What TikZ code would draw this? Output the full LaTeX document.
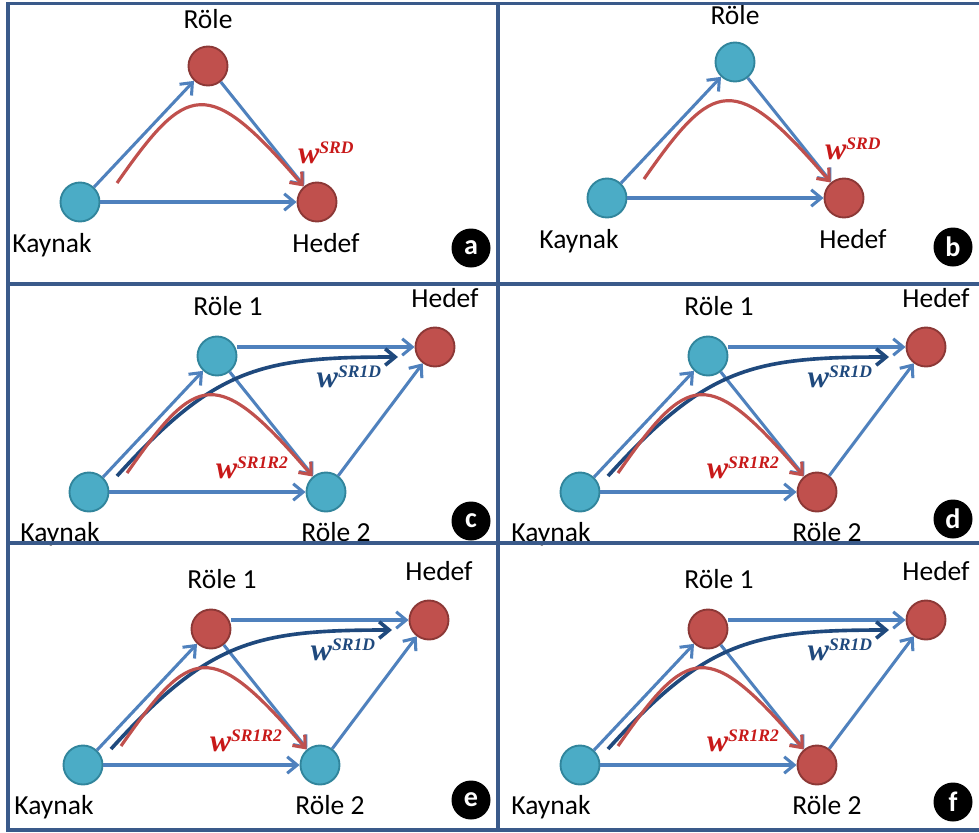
\documentclass[tikz,border=0pt]{standalone}
\usepackage{fontspec}
\setmainfont{Carlito}
\newfontfamily\wfont{Liberation Serif}
\usetikzlibrary{arrows.meta}

\definecolor{framec}{RGB}{58,90,138}
\definecolor{cyanfill}{RGB}{75,172,198}
\definecolor{cyanline}{RGB}{49,133,156}
\definecolor{redfill}{RGB}{192,80,77}
\definecolor{redline}{RGB}{140,56,54}
\definecolor{linkblue}{RGB}{79,129,189}
\definecolor{pathred}{RGB}{192,80,77}
\definecolor{pathnavy}{RGB}{31,73,125}
\definecolor{lblred}{RGB}{200,25,25}
\definecolor{lblnavy}{RGB}{31,73,125}

\tikzset{
  station/.style={circle, minimum size=1.17cm, inner sep=0pt, line width=1.6pt},
  cyannode/.style={station, fill=cyanfill, draw=cyanline},
  rednode/.style={station, fill=redfill, draw=redline},
  lbl/.style={anchor=base, inner sep=0pt, font=\fontsize{23.5}{26}\selectfont},
  wlabel/.style={anchor=base, inner sep=0pt},
  link/.style={draw=linkblue, line width=2.6pt, -{Straight Barb[length=8.5pt,width=14pt]}},
  redpath/.style={draw=pathred, line width=2.7pt, -{Straight Barb[length=8.5pt,width=14pt]}},
  navypath/.style={draw=pathnavy, line width=3.1pt, -{Straight Barb[length=8.5pt,width=14pt]}},
  tag/.style={circle, fill=black, minimum size=1.17cm, inner sep=0pt, text=white,
    font=\fontsize{24}{24}\selectfont\bfseries},
  frame/.style={draw=framec, line width=2.7pt},
}

% weight symbol w with a bold italic superscript
\newcommand\wsup[1]{{\wfont\bfseries\itshape\fontsize{27}{27}\selectfont
  w\raisebox{8pt}{\fontsize{15}{15}\selectfont #1}}}

% source, one relay, destination
\newcommand\triangleset[4]{%
\begin{scope}[shift={#2}]
  \node[cyannode] (#1K) at (80,202) {};
  \node[#3] (#1R) at (208,66) {};
  \node[#4] (#1H) at (317,202) {};
  \node[lbl] (#1Kl) at (52,252) {Kaynak};
  \node[lbl] (#1Rl) at (208,28) {Röle};
  \node[lbl] (#1Hl) at (326,252) {Hedef};
  \coordinate (#1S) at (117,183);
  \draw[link] (#1K) -- (#1R);
  \draw[link] (#1R) -- (#1H);
  \draw[link] (#1K) -- (#1H);
  \draw[redpath] (#1S) .. controls +(70,-100) and +(-110,-128) .. (#1H);
  \node[wlabel, text=lblred] (#1W) at (326,163) {\wsup{SRD}};
\end{scope}}

% source, two relays, destination
\newcommand\quadset[4]{%
\begin{scope}[shift={#2}]
  \node[cyannode] (#1K) at (89,492) {};
  \node[#3] (#1Ra) at (217,356) {};
  \node[rednode] (#1H) at (435,347) {};
  \node[#4] (#1Rb) at (326,492) {};
  \node[lbl] (#1Kl) at (60,541) {Kaynak};
  \node[lbl] (#1Ral) at (228,315) {Röle 1};
  \node[lbl] (#1Hl) at (445,307) {Hedef};
  \node[lbl] (#1Rbl) at (336,541) {Röle 2};
  \draw[link] (#1K) -- (#1Ra);
  \draw[link] (#1K) -- (#1Rb);
  \draw[link] (#1Ra) -- (#1Rb);
  \draw[link] (#1Ra.east |- #1H) -- (#1H);
  \draw[link] (#1Rb) -- (#1H);
  \coordinate (#1NS) at (117,476);
  \coordinate (#1NE) at (398,357);
  \coordinate (#1S) at (127,473);
  \draw[navypath] (#1NS) .. controls +(98,-108) and +(-138,0) .. (#1NE);
  \draw[redpath] (#1S) .. controls +(70,-100) and +(-110,-128) .. (#1Rb);
  \node[wlabel, text=lblnavy] (#1Wa) at (349,387) {\wsup{SR1D}};
  \node[wlabel, text=lblred] (#1Wb) at (252,478) {\wsup{SR1R2}};
\end{scope}}

\begin{document}
\begin{tikzpicture}[x=0.03cm, y=-0.03cm]
  \useasboundingbox[fill=white] (0,0) rectangle (979,832);

  \triangleset{a}{(0,0)}{rednode}{rednode}
  \triangleset{b}{(527,-4)}{cyannode}{rednode}
  \quadset{c}{(0,0)}{cyannode}{cyannode}
  \quadset{d}{(491,0)}{cyannode}{rednode}
  \quadset{e}{(-6,273)}{rednode}{cyannode}
  \quadset{f}{(491,273)}{rednode}{rednode}

  \node[tag] (tagA) at (471,248) {a};
  \node[tag] (tagB) at (953,247) {b};
  \node[tag] (tagC) at (471,521) {c};
  \node[tag] (tagD) at (953,519) {d};
  \node[tag] (tagE) at (471,800) {e};
  \node[tag] (tagF) at (953,802) {f};

  % panel frame
  \draw[frame] (979,3.5) -- (8,3.5) -- (8,830) -- (979,830);
  \draw[frame] (498,3.5) -- (498,830);
  \draw[frame] (8,284) -- (979,284);
  \draw[frame] (8,543) -- (979,543);
\end{tikzpicture}
\end{document}
